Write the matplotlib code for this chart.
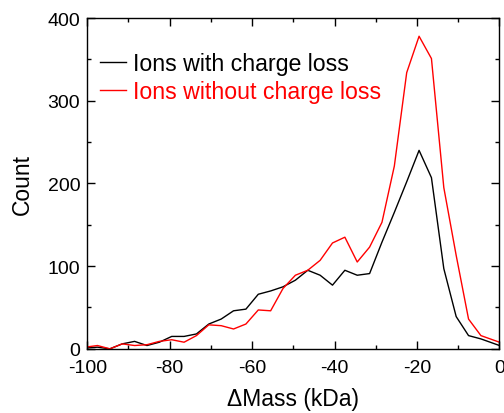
import matplotlib
matplotlib.use("Agg")
import matplotlib.pyplot as plt
from matplotlib.ticker import MultipleLocator

plt.rcParams["font.family"] = ["Liberation Sans", "DejaVu Sans"]
plt.rcParams["axes.unicode_minus"] = False

# mass shift bins (kDa)
dmass = [-100.5, -97.5, -94.5, -91.5, -88.5, -85.5, -82.5, -79.5, -76.5, -73.5,
         -70.5, -67.5, -64.5, -61.5, -58.5, -55.5, -52.5, -49.5, -46.5, -43.5,
         -40.5, -37.5, -34.5, -31.5, -28.5, -25.5, -22.5, -19.5, -16.5, -13.5,
         -10.5, -7.5, -4.5, 0.0]

count_loss = [1, 2, 0, 6, 9, 4, 8, 15, 15, 18,
              30, 36, 46, 48, 66, 70, 75, 83, 95, 89,
              77, 95, 89, 91, 129, 165, 202, 240, 207, 97,
              39, 16, 12, 4]

count_noloss = [2, 4, 0, 6, 4, 5, 9, 11, 8, 16,
                29, 28, 24, 30, 47, 46, 73, 89, 95, 107,
                128, 135, 105, 123, 153, 221, 334, 378, 351, 195,
                113, 36, 16, 8]

fig = plt.figure(figsize=(5.04, 4.14), dpi=100)
ax = fig.add_axes([0.173, 0.155, 0.818, 0.799])

ax.plot(dmass, count_loss, color="black", lw=1.0, label="Ions with charge loss")
ax.plot(dmass, count_noloss, color="red", lw=1.0, label="Ions without charge loss")

ax.set_xlim(-100, 0)
ax.set_ylim(0, 400)
ax.xaxis.set_major_locator(MultipleLocator(20))
ax.xaxis.set_minor_locator(MultipleLocator(10))
ax.yaxis.set_major_locator(MultipleLocator(100))
ax.yaxis.set_minor_locator(MultipleLocator(50))
ax.tick_params(which="both", direction="in", top=True, right=True, labelsize=14, width=1)
ax.tick_params(which="major", length=5.5)
ax.tick_params(which="minor", length=3)
ax.tick_params(axis="x", pad=7)
ax.tick_params(axis="y", pad=5)
for s in ax.spines.values():
    s.set_linewidth(1)

ax.set_xlabel("\u0394Mass (kDa)", fontsize=16.5, labelpad=8)
ax.set_ylabel("Count", fontsize=16.5, labelpad=10)

leg = ax.legend(loc="upper left", bbox_to_anchor=(0.008, 0.925), frameon=False,
                fontsize=16.7, handlelength=1.15, handletextpad=0.3,
                labelspacing=0.2, borderaxespad=0)
for txt, line in zip(leg.get_texts(), leg.get_lines()):
    txt.set_color(line.get_color())

fig.savefig("out.png", dpi=100)
